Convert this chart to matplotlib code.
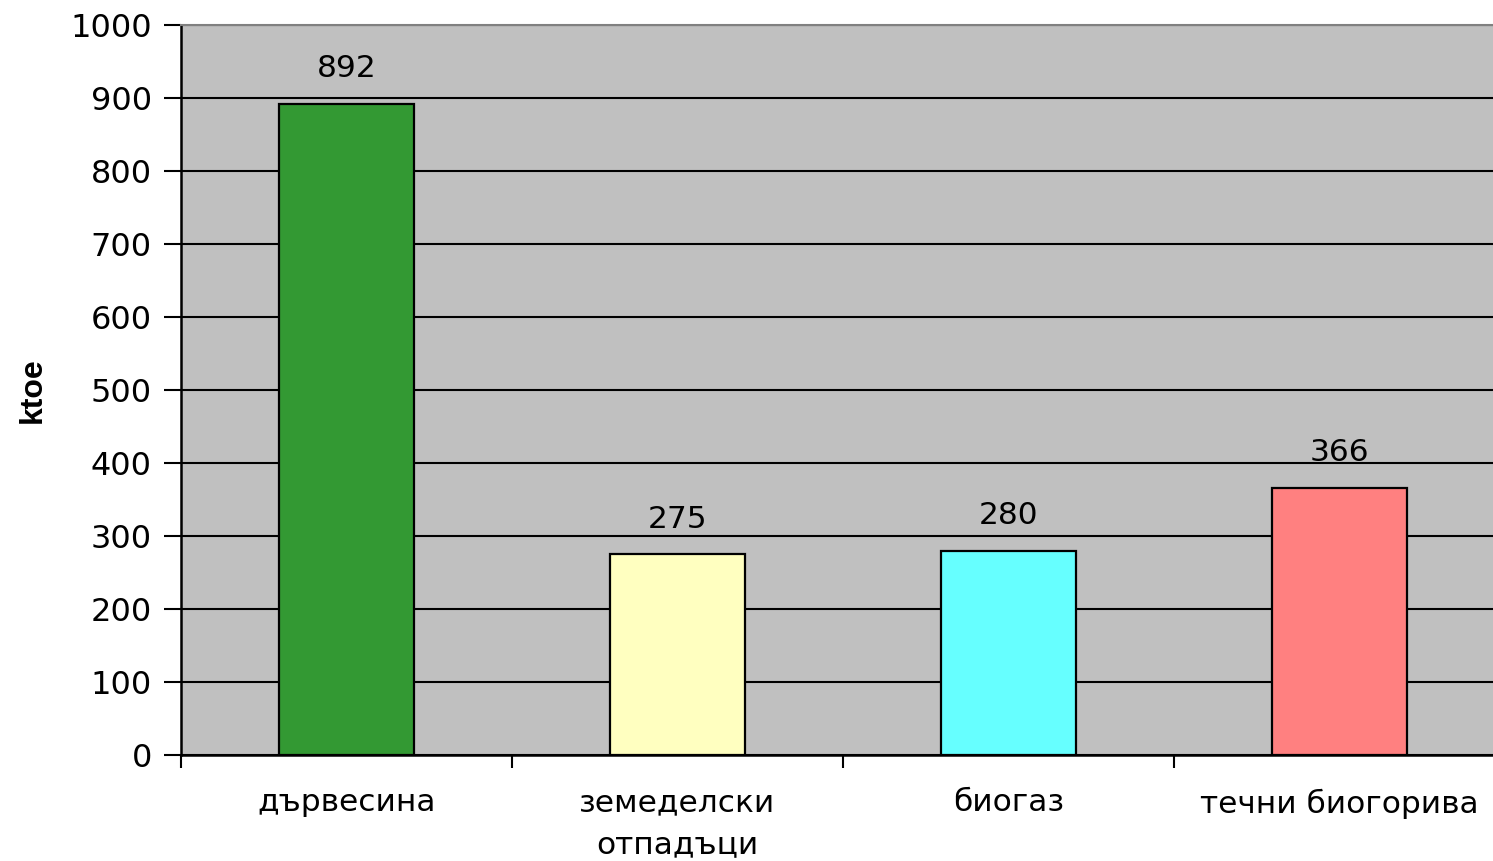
import matplotlib
matplotlib.use("Agg")
import matplotlib.pyplot as plt
import numpy as np

categories = ["дървесина", "земеделски\nотпадъци", "биогаз", "течни биогорива"]
values = [892, 275, 280, 366]
colors = ["#339933", "#FFFFC0", "#66FFFF", "#FF8080"]
yticks = [0, 100, 200, 300, 400, 500, 600, 700, 800, 900, 1000]

plt.rcParams['font.family'] = ['DejaVu Sans']

W, H = 1493, 861
fig = plt.figure(figsize=(W / 100, H / 100), dpi=100)
ax = fig.add_axes([181 / W, (H - 755) / H, 1 - 181 / W, (755 - 25) / H])
ax.set_facecolor("#C0C0C0")

x = np.arange(len(categories)) + 0.5
ax.set_axisbelow(True)
ax.yaxis.grid(True, color="black", linewidth=1.5)
bars = ax.bar(x, values, width=0.405, color=colors, edgecolor="black", linewidth=1.6, zorder=2)
for xi, v in zip(x, values):
    ax.annotate(str(v), (xi, v), xytext=(0, 35), textcoords="offset pixels",
                ha="center", va="center", fontsize=22.5, zorder=3)

ax.set_xlim(0, (W - 181) / 331)
ax.set_ylim(0, 1000)
ax.set_yticks(yticks)
ax.tick_params(axis="y", labelsize=23, length=12, width=1.5, direction="out", pad=9)
ax.set_xticks([0, 1, 2, 3])
ax.set_xticklabels([])
ax.tick_params(axis="x", which="major", length=9, width=1.5, direction="out")
ax.set_xticks(x, minor=True)
ax.set_xticklabels(categories, minor=True, fontsize=22.5, linespacing=1.55)
ax.tick_params(axis="x", which="minor", length=0, pad=24)

ax.set_ylabel("ktoe", fontsize=23, fontweight="bold", family="Liberation Sans", labelpad=16)

for s in ["left", "bottom"]:
    ax.spines[s].set_color("black")
    ax.spines[s].set_linewidth(1.8)
ax.spines["top"].set_color("#808080")
ax.spines["top"].set_linewidth(1.5)
ax.spines["right"].set_visible(False)

fig.savefig("out.png", dpi=100)
